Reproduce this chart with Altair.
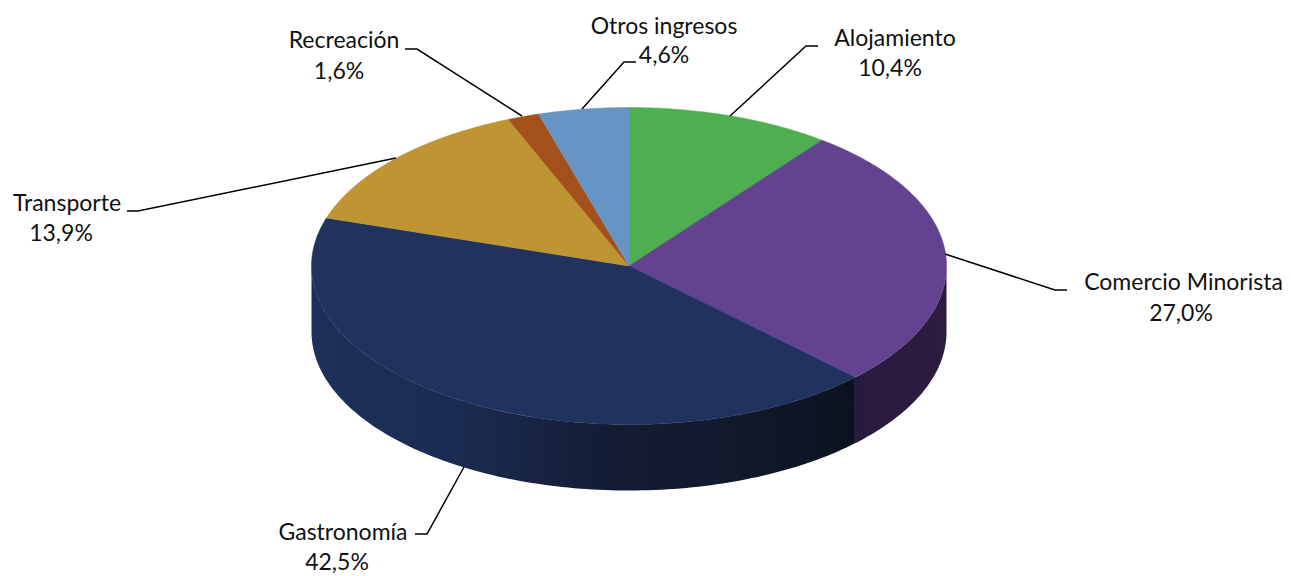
import math
import altair as alt
import pandas as pd

# Chart values
categories = ["Alojamiento", "Comercio Minorista", "Gastronomía", "Transporte", "Recreación", "Otros ingresos"]
values = [10.4, 27.0, 42.5, 13.9, 1.6, 4.6]
value_labels = ["10,4%", "27,0%", "42,5%", "13,9%", "1,6%", "4,6%"]
colors = ["#4fae4f", "#63428f", "#1f335e", "#bf9433", "#a4501a", "#6594c5"]

# Label centres and leader-line paths, in picture pixels
name_x = [895, 1183.5, 343, 67, 344, 664]
name_y = [39, 283, 533, 204, 41, 27]
pct_x = [890, 1181, 337, 61, 339, 664]
pct_y = [69, 314, 563, 234, 72, 56]
leaders = [
    [(730, 116), (806, 46), (818, 46)],
    [(945, 254), (1055, 290), (1067, 290)],
    [(464, 467), (427, 534), (415, 534)],
    [(396, 158), (138, 211), (127, 211)],
    [(522, 116), (417, 49), (405, 49)],
    [(582, 109), (624, 62), (636, 62)],
]

# Pie geometry
cx, cy, rx, ry, depth = 629.0, 266.0, 317.5, 158.5, 66.0
W, H = 1275, 568
xs = alt.Scale(domain=[8, 8 + W], range=[0, W], nice=False, zero=False)
ys = alt.Scale(domain=[8, 8 + H], range=[0, H], nice=False, zero=False)
X = alt.X("x:Q", scale=xs, axis=None)
Y = alt.Y("y:Q", scale=ys, axis=None)


def pt(deg):
    a = math.radians(deg)
    return cx + rx * math.sin(a), cy - ry * math.cos(a)


total = sum(values)
edges = [0.0]
for v in values:
    edges.append(edges[-1] + v / total * 360)

layers = []


def side(a0, a1, stops):
    rows = []
    n = 120
    for k in range(n + 1):
        x, y = pt(a0 + (a1 - a0) * k / n)
        rows.append({"x": x, "y": y, "y2": y + depth})
    return (
        alt.Chart(pd.DataFrame(rows))
        .mark_area(
            interpolate="linear", strokeWidth=0,
            fill=alt.Gradient(gradient="linear", x1=0, y1=0, x2=1, y2=0,
                              stops=[alt.GradientStop(offset=o, color=c) for o, c in stops]),
        )
        .encode(x=X, y=Y, y2="y2:Q")
    )


# visible side walls, each running left to right along the front rim
layers.append(side(90, edges[2], [(0, "#281a3e"), (1, "#2e1c40")]))
layers.append(side(270, edges[2], [(0, "#1d3059"), (0.25, "#1b2c52"), (0.55, "#141c34"),
                                   (0.75, "#121a2e"), (1, "#0c121f")]))

for i, c in enumerate(colors):
    rows = [{"x": cx, "y": cy, "i": 0}]
    n = max(4, int(values[i] * 4))
    for k in range(n + 1):
        x, y = pt(edges[i] + (edges[i + 1] - edges[i]) * k / n)
        rows.append({"x": x, "y": y, "i": k + 1})
    rows.append({"x": cx, "y": cy, "i": n + 2})
    layers.append(
        alt.Chart(pd.DataFrame(rows))
        .mark_line(fill=c, stroke=c, strokeWidth=0.5, interpolate="linear")
        .encode(x=X, y=Y, order=alt.Order("i:Q"))
    )

for i, path in enumerate(leaders):
    d = pd.DataFrame([{"x": p[0], "y": p[1], "i": j} for j, p in enumerate(path)])
    layers.append(
        alt.Chart(d).mark_line(color="#000000", strokeWidth=1.5, interpolate="linear")
        .encode(x=X, y=Y, order=alt.Order("i:Q"))
    )

text_df = pd.DataFrame(
    {"x": name_x + pct_x, "y": name_y + pct_y, "t": categories + value_labels}
)
layers.append(
    alt.Chart(text_df)
    .mark_text(font="Lato", fontSize=23, color="#111111", align="center", baseline="middle")
    .encode(x=X, y=Y, text="t:N")
)

chart = (
    alt.layer(*layers)
    .properties(width=W, height=H, padding=0, background="#ffffff",
                autosize=alt.AutoSizeParams(type="none"))
    .configure_view(stroke=None, strokeWidth=0)
)
chart.save("out.html", embed_options={"renderer": "svg", "actions": False})
